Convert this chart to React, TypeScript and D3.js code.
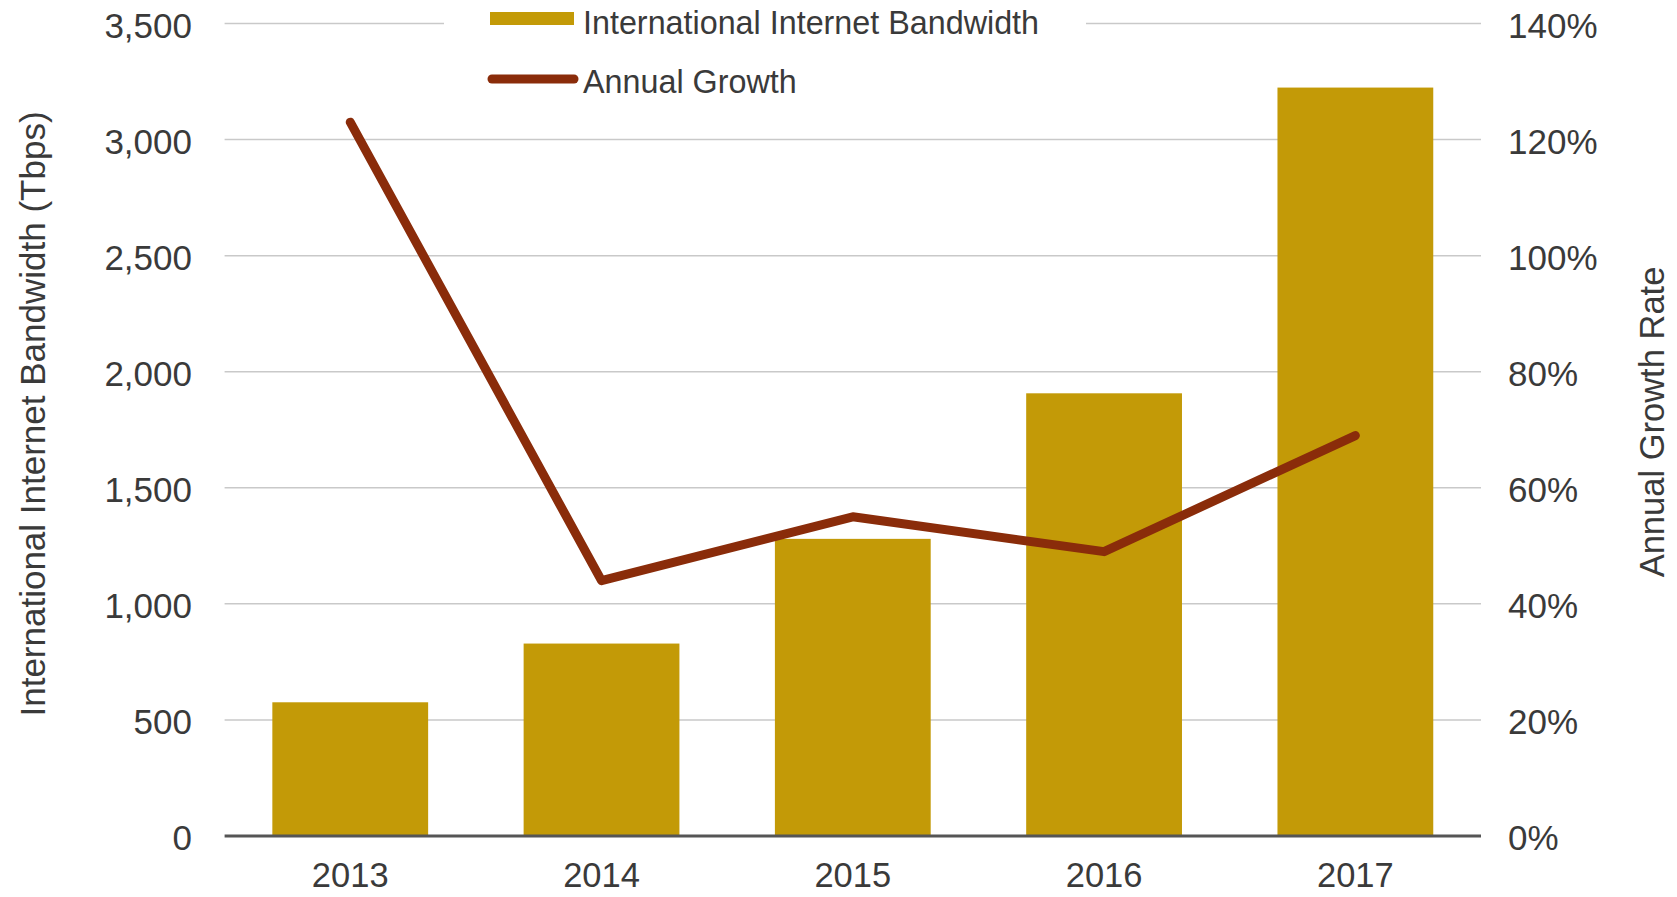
import React from "react";
import * as d3 from "d3";

const years = ["2013", "2014", "2015", "2016", "2017"];
const bandwidth = [576, 829, 1280, 1907, 3224];
const growth = [123, 44, 55, 49, 69];
const leftTicks = [0, 500, 1000, 1500, 2000, 2500, 3000, 3500];
const rightTicks = [0, 20, 40, 60, 80, 100, 120, 140];

const W = 1677;
const H = 897;
const FONT = "'Liberation Sans', Arial, Helvetica, sans-serif";
const BAR = "#C39A07";
const LINE = "#8A2C0A";
const TXT = "#3a3a3a";

export default function App() {
  const x = d3.scaleBand<string>().domain(years).range([224.6, 1481]).paddingInner(0.38).paddingOuter(0.19);
  const y = d3.scaleLinear().domain([0, 3500]).range([836, 23.5]);
  const y2 = d3.scaleLinear().domain([0, 140]).range([836, 23.5]);
  const fmt = d3.format(",");
  const line = d3
    .line<number>()
    .x((_, i) => (x(years[i]) as number) + x.bandwidth() / 2)
    .y((d) => y2(d));

  return (
    <svg width={W} height={H} style={{ position: "absolute", left: 0, top: 0, background: "#fff" }} fontFamily={FONT}>
      <rect x={0} y={0} width={W} height={H} fill="#fff" />
      {leftTicks.slice(1).map((t) => (
        <line key={t} x1={224.6} x2={1481} y1={y(t)} y2={y(t)} stroke="#c9c9c9" strokeWidth={1.5} />
      ))}
      {bandwidth.map((v, i) => (
        <rect key={years[i]} x={x(years[i])} y={y(v)} width={x.bandwidth()} height={y(0) - y(v)} fill={BAR} />
      ))}
      <line x1={224.6} x2={1481} y1={y(0)} y2={y(0)} stroke="#555" strokeWidth={3} />
      <path d={line(growth) || ""} fill="none" stroke={LINE} strokeWidth={9} strokeLinecap="round" strokeLinejoin="round" />
      {leftTicks.map((t) => (
        <text key={t} x={192} y={y(t)} dy="0.4em" textAnchor="end" fontSize={35} fill={TXT}>
          {fmt(t)}
        </text>
      ))}
      {rightTicks.map((t) => (
        <text key={t} x={1508} y={y2(t)} dy="0.4em" textAnchor="start" fontSize={35} fill={TXT}>
          {t + "%"}
        </text>
      ))}
      {years.map((yr) => (
        <text key={yr} x={(x(yr) as number) + x.bandwidth() / 2} y={887} textAnchor="middle" fontSize={34.5} fill={TXT}>
          {yr}
        </text>
      ))}
      <text transform="translate(45,414) rotate(-90)" textAnchor="middle" fontSize={35} fill={TXT}>
        International Internet Bandwidth (Tbps)
      </text>
      <text transform="translate(1664,422) rotate(-90)" textAnchor="middle" fontSize={34.5} fill={TXT}>
        Annual Growth Rate
      </text>
      <rect x={444} y={0} width={642} height={48} fill="#fff" />
      <rect x={490} y={12} width={84} height={13} fill={BAR} />
      <text x={583} y={34} fontSize={32.3} fill={TXT}>International Internet Bandwidth</text>
      <line x1={492} x2={574} y1={79} y2={79} stroke={LINE} strokeWidth={9} strokeLinecap="round" />
      <text x={583} y={93} fontSize={32.3} fill={TXT}>Annual Growth</text>
    </svg>
  );
}
